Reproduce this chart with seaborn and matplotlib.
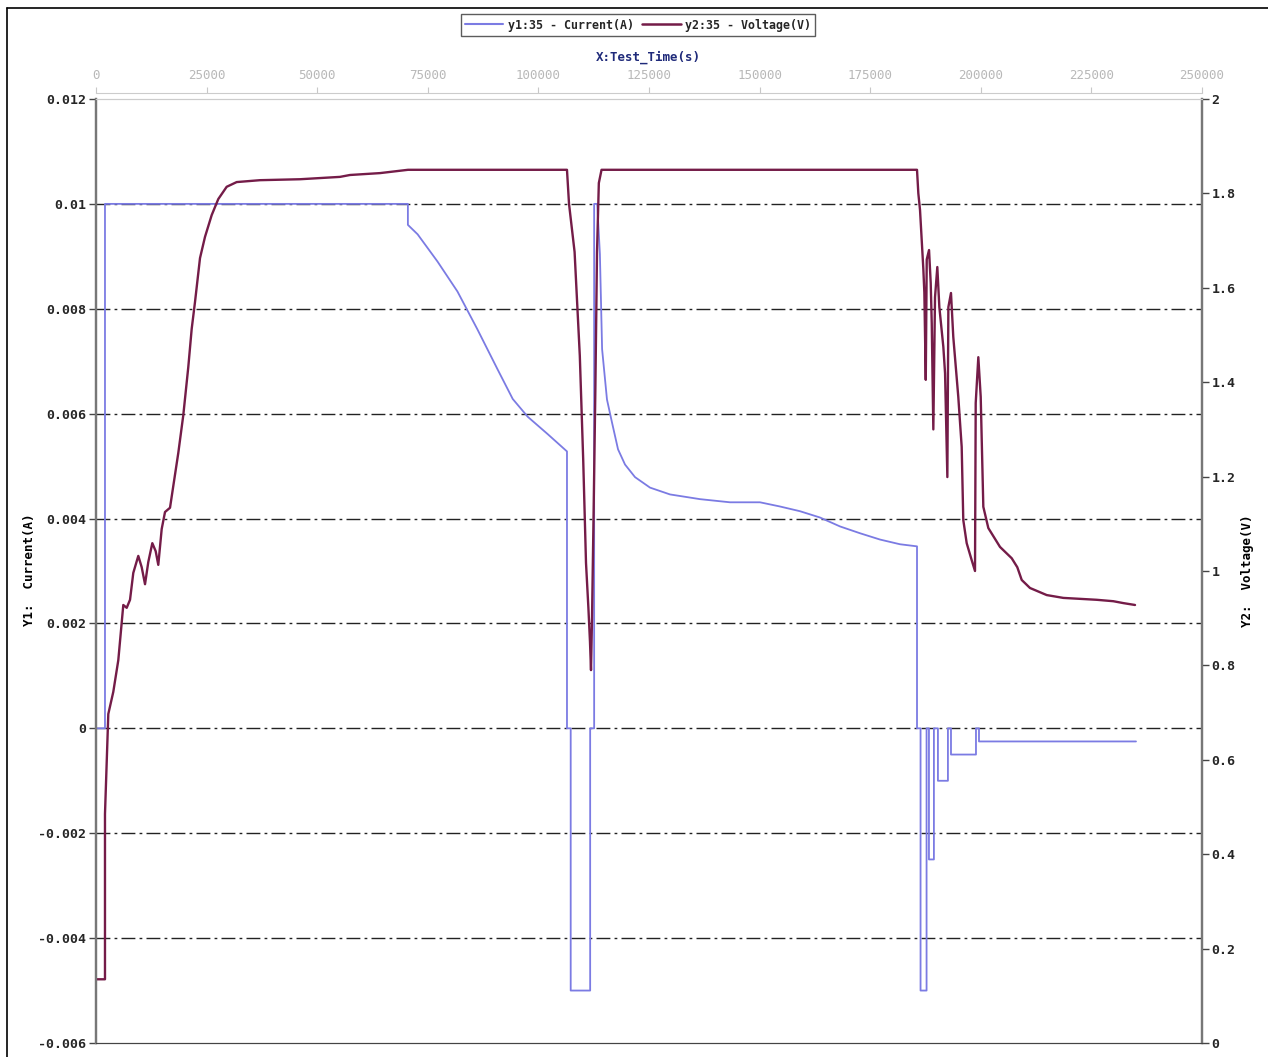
import pandas as pd
import matplotlib.pyplot as plt
import seaborn as sns
from matplotlib.lines import Line2D

# Current (A) vs test time (s)
current_time = [0, 2030, 2030, 70500, 70500, 72700, 77200, 81700, 86200, 90800, 94200, 97600,
                102100, 106460, 106460, 107300, 107300, 111700, 111700, 112600, 112600, 113300,
                113900, 114400, 115500, 116640, 118000, 119580, 121840, 125230, 129750, 136530,
                143310, 150090, 154610, 159130, 163650, 168170, 172690, 177210, 181730, 185580,
                185580, 186380, 186380, 187740, 187740, 188280, 188280, 189400, 189400, 190310,
                190310, 192570, 192570, 193260, 193260, 198910, 198910, 199590, 199590, 235080]
current_vals = [0, 0, 0.01, 0.01, 0.0096, 0.00942, 0.0089, 0.00833, 0.00761, 0.00684, 0.00628, 0.00594,
                0.00561, 0.00528, 0, 0, -0.005, -0.005, 0, 0, 0.01, 0.01,
                0.00904, 0.00723, 0.00627, 0.00583, 0.00532, 0.00503, 0.00479, 0.00459, 0.00446, 0.00437,
                0.00431, 0.00431, 0.00423, 0.00414, 0.00402, 0.00385, 0.00372, 0.0036, 0.00351, 0.00347,
                0, 0, -0.005, -0.005, 0, 0, -0.0025, -0.0025, 0, 0,
                -0.001, -0.001, 0, 0, -0.0005, -0.0005, 0, 0, -0.00025, -0.00025]

# Voltage (V) vs test time (s)
voltage_time = [0, 2030, 2030, 2700, 2780, 3910, 5040, 6170, 6940, 7690, 8430, 9560, 10330, 11080,
                11820, 12730, 13490, 14080, 14850, 15600, 16730, 17470, 18600, 19730, 20860, 21630,
                22380, 23510, 24640, 26150, 27640, 29540, 31800, 37070, 46110, 55150, 57410, 64200,
                70530, 106460, 106920, 108180, 109360, 110130, 110760, 111300, 111660, 111890,
                112120, 112480, 112870, 113250, 113660, 114270, 185580, 185880, 186260, 186650,
                187010, 187240, 187560, 187780, 188300, 188680, 188910, 189270, 189650, 190170,
                190630, 191530, 191920, 192440, 192670, 193260, 193780, 194910, 195680, 196040,
                196810, 197940, 198690, 198850, 199440, 199980, 200570, 201700, 204340, 206990,
                208250, 209250, 211120, 214900, 218650, 222420, 226190, 229950, 232210, 234860]
voltage_vals = [0.135, 0.135, 0.485, 0.674, 0.697, 0.744, 0.811, 0.928, 0.922, 0.939, 0.996, 1.032,
                1.008, 0.972, 1.019, 1.059, 1.042, 1.013, 1.089, 1.125, 1.134, 1.18, 1.25, 1.33,
                1.432, 1.513, 1.57, 1.663, 1.708, 1.754, 1.788, 1.814, 1.824, 1.828, 1.83, 1.835,
                1.839, 1.843, 1.85, 1.85, 1.778, 1.676, 1.456, 1.235, 1.017, 0.922, 0.85, 0.79,
                0.9, 1.125, 1.381, 1.676, 1.822, 1.85, 1.85, 1.8, 1.765, 1.7, 1.64, 1.59, 1.405,
                1.66, 1.68, 1.61, 1.525, 1.3, 1.58, 1.644, 1.559, 1.475, 1.419, 1.199, 1.559,
                1.589, 1.496, 1.369, 1.263, 1.108, 1.059, 1.023, 1.0, 1.356, 1.453, 1.369, 1.136,
                1.091, 1.051, 1.027, 1.008, 0.981, 0.964, 0.949, 0.943, 0.941, 0.939, 0.936,
                0.932, 0.928]

x_ticks = [0, 25000, 50000, 75000, 100000, 125000, 150000, 175000, 200000, 225000, 250000]
y1_ticks = [0.012, 0.01, 0.008, 0.006, 0.004, 0.002, 0, -0.002, -0.004, -0.006]
y1_labels = ['0.012', '0.01', '0.008', '0.006', '0.004', '0.002', '0', '-0.002', '-0.004', '-0.006']
y2_ticks = [2, 1.8, 1.6, 1.4, 1.2, 1, 0.8, 0.6, 0.4, 0.2, 0]
y2_labels = ['2', '1.8', '1.6', '1.4', '1.2', '1', '0.8', '0.6', '0.4', '0.2', '0']
grid_levels = [0.01, 0.008, 0.006, 0.004, 0.002, 0, -0.002, -0.004]

cur_df = pd.DataFrame({'t': current_time, 'i': current_vals})
vol_df = pd.DataFrame({'t': voltage_time, 'v': voltage_vals})

blue = '#7b7be3'
maroon = '#741c48'
mono = 'DejaVu Sans Mono'

sns.set_style('white')
plt.rcParams['font.family'] = [mono, 'DejaVu Sans']

fig = plt.figure(figsize=(12.68, 10.57), dpi=100)
ax = fig.add_axes([96 / 1268, 14 / 1057, 1106 / 1268, 944 / 1057])
ax2 = ax.twinx()

for lvl in grid_levels:
    ax.axhline(lvl, color='#222222', lw=1.0, linestyle=(0, (10, 3, 2, 3)), zorder=0)

sns.lineplot(data=cur_df, x='t', y='i', ax=ax, color=blue, lw=1.3, sort=False, estimator=None)
sns.lineplot(data=vol_df, x='t', y='v', ax=ax2, color=maroon, lw=1.7, sort=False, estimator=None)

ax.set_xlim(0, 250000)
ax.set_ylim(-0.006, 0.012)
ax2.set_ylim(0, 2)
ax.set_xlabel('')
ax.set_ylabel('')
ax2.set_ylabel('')

ax.set_yticks(y1_ticks)
ax.set_yticklabels(y1_labels, fontsize=9.5, fontweight='bold', family=mono)
ax2.set_yticks(y2_ticks)
ax2.set_yticklabels(y2_labels, fontsize=9.5, fontweight='bold', family=mono)
ax.tick_params(axis='y', left=True, direction='out', length=5, width=1, color='#444444', pad=2)
ax2.tick_params(axis='y', right=True, direction='out', length=5, width=1, color='#444444', pad=2)
ax.tick_params(axis='x', bottom=False, labelbottom=False, top=False, labeltop=False)

# top time axis, light grey, sitting just above the plot frame
sec = ax.secondary_xaxis(1.0064)
sec.set_xticks(x_ticks)
sec.set_xticklabels([str(v) for v in x_ticks], fontsize=9, color='#b8b8b8', family=mono)
sec.tick_params(axis='x', direction='out', length=4, color='#c8c8c8', pad=4)
sec.spines['top'].set_color('#cccccc')

for a in (ax, ax2):
    a.spines['top'].set_color('#cccccc')
    a.spines['bottom'].set_color('#444444')
    a.spines['left'].set_color('#777777')
    a.spines['right'].set_color('#777777')
    a.spines['left'].set_linewidth(1.6)
    a.spines['right'].set_linewidth(1.6)

fig.text(648 / 1268, 1 - 57 / 1057, 'X:Test_Time(s)', ha='center', va='center',
         fontsize=9, fontweight='bold', color='#1f2a7a', family=mono)
fig.text(30 / 1268, 1 - 570 / 1057, 'Y1:  Current(A)', ha='center', va='center', rotation=90,
         fontsize=9, fontweight='bold', color='black', family=mono)
fig.text(1248 / 1268, 1 - 571 / 1057, 'Y2:  Voltage(V)', ha='center', va='center', rotation=90,
         fontsize=9, fontweight='bold', color='black', family=mono)

handles = [Line2D([], [], color=blue, lw=1.5), Line2D([], [], color=maroon, lw=1.8)]
leg = fig.legend(handles, ['y1:35 - Current(A)', 'y2:35 - Voltage(V)'], loc='center',
                 bbox_to_anchor=(638 / 1268, 1 - 25 / 1057), ncol=2, frameon=True, fancybox=False,
                 handlelength=3.3, handletextpad=0.4, columnspacing=0.7, borderpad=0.35,
                 prop={'family': mono, 'weight': 'bold', 'size': 8.4})
leg.get_frame().set_edgecolor('#333333')
leg.get_frame().set_linewidth(1.0)

# outer border of the screenshot
fig.add_artist(Line2D([7 / 1268, 7 / 1268], [0, 1 - 8 / 1057], transform=fig.transFigure, color='black', lw=1.2))
fig.add_artist(Line2D([7 / 1268, 1], [1 - 8 / 1057, 1 - 8 / 1057], transform=fig.transFigure, color='black', lw=1.2))

fig.savefig('out.png', dpi=100)
